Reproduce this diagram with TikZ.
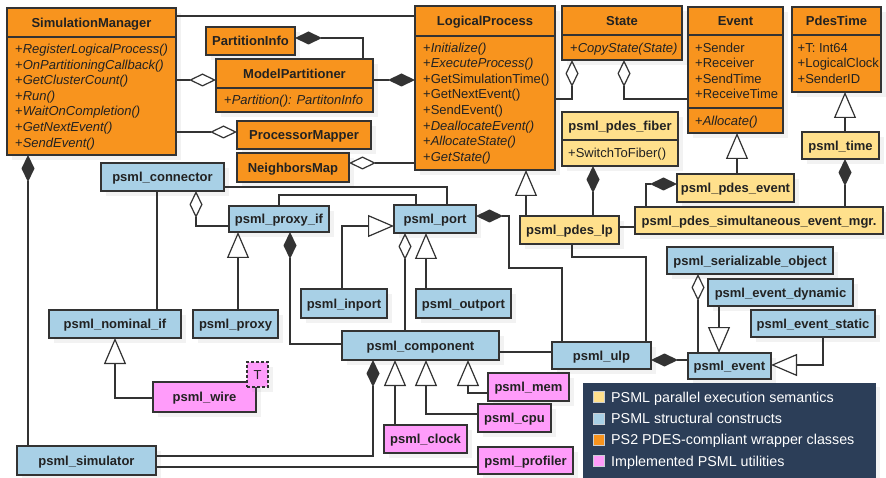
\documentclass[tikz,border=0pt]{standalone}
\usepackage{fontspec}
\setmainfont{Liberation Sans}
\usetikzlibrary{arrows.meta,shadows}

\definecolor{wrap}{HTML}{F8941E}
\definecolor{struct}{HTML}{A8D0E6}
\definecolor{parexec}{HTML}{FFE08C}
\definecolor{util}{HTML}{FF9CFA}
\definecolor{legbg}{HTML}{2C3E58}
\definecolor{ink}{HTML}{222222}
\definecolor{rule}{HTML}{333333}

% class box: name, style, x1, y1, x2, y2, text (pixel-like units, y downwards)
\newcommand\cls[7]{%
  \node[box,#2,minimum width={(#5-#3)*1pt},minimum height={(#6-#4)*1pt}] (#1) at (#3,#4) {#7};}
% compartment separator inside a class box
\newcommand\divider[2]{\draw[boxline] (#1.west |- 0,#2) -- (#1.east |- 0,#2);}

\tikzset{
  box/.style={draw=rule,line width=1.1pt,inner sep=0pt,outer sep=0pt,anchor=north west,
    font=\fontsize{13}{15.6}\selectfont\bfseries,text=ink,text height=9.5pt,text depth=0pt,
    drop shadow={shadow xshift=5pt,shadow yshift=-5pt,opacity=0.1}},
  boxline/.style={draw=rule,line width=1.1pt},
  title/.style={inner sep=0pt,font=\fontsize{13}{15.6}\selectfont\bfseries,text=ink,
    text height=9.5pt,text depth=0pt},
  op/.style={anchor=west,inner sep=0pt,font=\fontsize{13}{15.6}\selectfont,text=ink,
    text height=9.5pt,text depth=0pt},
  conn/.style={draw=rule,line width=1.2pt},
  aggr/.style={conn,-{Diamond[fill=white,length=27pt,width=13pt]}},
  compo/.style={conn,-{Diamond[fill=rule,length=27pt,width=13pt]}},
  inh/.style={conn,-{Triangle[fill=white,length=26pt,width=22pt]}},
  legsq/.style={minimum size=11pt,inner sep=0pt,draw=white!75!legbg,line width=0.6pt},
  legtxt/.style={anchor=west,inner sep=0pt,text=white,font=\fontsize{14.3}{17}\selectfont,
    text height=10.4pt,text depth=0pt},
}

\begin{document}
\begin{tikzpicture}[x=1pt,y=-1pt]
\fill[white] (0,0) rectangle (886,478);
\useasboundingbox (0,0) rectangle (886,478);

% ---------- PS2 PDES-compliant wrapper classes ----------
\cls{sm}{fill=wrap}{7}{8}{176}{155}{}
\divider{sm}{37}
\node[title] (sm-t) at (sm.north |- 0,22.5) {SimulationManager};
\foreach \t [count=\i from 0] in {RegisterLogicalProcess(),OnPartitioningCallback(),GetClusterCount(),Run(),WaitOnCompletion(),GetNextEvent(),SendEvent()}
  \node[op] (sm-op\i) at (15,{48.7+15.6*\i}) {+\textit{\t}};

\cls{pi}{fill=wrap}{206}{27}{295}{55}{PartitionInfo}

\cls{mp}{fill=wrap}{216}{59}{373}{112}{}
\divider{mp}{88}
\node[title] (mp-t) at (mp.north |- 0,73.5) {ModelPartitioner};
\node[op] (mp-op) at (224,100) {+\textit{Partition(): PartitonInfo}};

\cls{pm}{fill=wrap}{237}{121}{371}{149}{ProcessorMapper}
\cls{nb}{fill=wrap}{237}{153}{349}{182}{NeighborsMap}

\cls{lp}{fill=wrap}{415}{6}{555}{170}{}
\divider{lp}{36}
\node[title] (lp-t) at (lp.north |- 0,21) {LogicalProcess};
\foreach \t [count=\i from 0] in {+\textit{Initialize()},+\textit{ExecuteProcess()},+GetSimulationTime(),+GetNextEvent(),+SendEvent(),+\textit{DeallocateEvent()},+\textit{AllocateState()},+\textit{GetState()}}
  \node[op] (lp-op\i) at (423,{47.3+15.6*\i}) {\t};

\cls{st}{fill=wrap}{562}{6}{682}{60}{}
\divider{st}{35}
\node[title] (st-t) at (st.north |- 0,21) {State};
\node[op] (st-op) at (570,48) {+\textit{CopyState(State)}};

\cls{ev}{fill=wrap}{688}{7}{783}{133}{}
\divider{ev}{35}
\divider{ev}{108}
\node[title] (ev-t) at (ev.north |- 0,21) {Event};
\foreach \t [count=\i from 0] in {Sender,Receiver,SendTime,ReceiveTime}
  \node[op] (ev-at\i) at (695,{47.3+15.6*\i}) {+\t};
\node[op] (ev-op) at (695,121) {+\textit{Allocate()}};

\cls{pdt}{fill=wrap}{792}{7}{881}{92}{}
\divider{pdt}{35}
\node[title] (pdt-t) at (pdt.north |- 0,21) {PdesTime};
\foreach \t [count=\i from 0] in {T: Int64,LogicalClock,SenderID}
  \node[op] (pdt-at\i) at (797.5,{47.3+15.6*\i}) {+\t};

% ---------- parallel execution semantics ----------
\cls{pf}{fill=parexec}{562}{112}{678}{166}{}
\divider{pf}{140}
\node[title] (pf-t) at (pf.north |- 0,126) {psml\_pdes\_fiber};
\node[op] (pf-op) at (568,153) {+SwitchToFiber()};

\cls{pt}{fill=parexec}{802}{132}{879}{159}{psml\_time}
\cls{pe}{fill=parexec}{677}{174}{794}{202}{psml\_pdes\_event}
\cls{sem}{fill=parexec}{635}{207}{883}{234}{psml\_pdes\_simultaneous\_event\_mgr.}
\cls{plp}{fill=parexec}{520}{216}{619}{244}{psml\_pdes\_lp}

% ---------- structural constructs ----------
\cls{con}{fill=struct}{101}{163}{224}{191}{psml\_connector}
\cls{pif}{fill=struct}{229}{206}{329}{232}{psml\_proxy\_if}
\cls{port}{fill=struct}{394}{205}{476}{233}{psml\_port}
\cls{inp}{fill=struct}{301}{289}{387}{318}{psml\_inport}
\cls{outp}{fill=struct}{416}{289}{511}{318}{psml\_outport}
\cls{nif}{fill=struct}{49}{310}{181}{338}{psml\_nominal\_if}
\cls{prx}{fill=struct}{193}{310}{278}{338}{psml\_proxy}
\cls{cmp}{fill=struct}{342}{331}{499}{360}{psml\_component}
\cls{ulp}{fill=struct}{552}{342}{651}{369}{psml\_ulp}
\cls{so}{fill=struct}{667}{247}{833}{274}{psml\_serializable\_object}
\cls{ped}{fill=struct}{708}{279}{853}{306}{psml\_event\_dynamic}
\cls{pes}{fill=struct}{751}{310}{875}{337}{psml\_event\_static}
\cls{pev}{fill=struct}{688}{353}{771}{379}{psml\_event}
\cls{sim}{fill=struct}{17}{446}{156}{475}{psml\_simulator}

% ---------- utilities ----------
\cls{wire}{fill=util}{153}{382}{256}{412}{psml\_wire}
\cls{wiret}{fill=util,dash pattern=on 3pt off 2pt,font=\fontsize{13}{15.6}\selectfont}{247}{362}{268}{387}{T}
\cls{mem}{fill=util}{488}{373}{569}{401}{psml\_mem}
\cls{cpu}{fill=util}{478}{404}{551}{432}{psml\_cpu}
\cls{clk}{fill=util}{384}{425}{467}{453}{psml\_clock}
\cls{prof}{fill=util}{478}{447}{573}{474}{psml\_profiler}

% ---------- relations ----------
\draw[conn] (sm.east |- 0,16) -- (lp.west |- 0,16);
\draw[compo] (mp.north -| 363,0) |- (pi.east |- 0,38);
\draw[aggr] (sm.east |- 0,80) -- (mp.west |- 0,80);
\draw[compo] (mp.east |- 0,80) -- (lp.west |- 0,80);
\draw[aggr] (sm.east |- 0,132) -- (pm.west |- 0,132);
\draw[aggr] (lp.west |- 0,163) -- (nb.east |- 0,163);
\draw[aggr] (lp.east |- 0,99) -| (st.south -| 572,0);
\draw[aggr] (ev.west |- 0,99) -| (st.south -| 624,0);
\draw[inh] (pt.north -| 845,0) -- (pdt.south -| 845,0);
\draw[compo] (sem.north -| 845,0) -- (pt.south -| 845,0);
\draw[inh] (pe.north -| 737,0) -- (ev.south -| 737,0);
\draw[compo] (sem.north -| 646,0) |- (pe.west |- 0,184);
\draw[conn] (plp.east |- 0,227) -- (sem.west |- 0,227);
\draw[inh] (plp.north -| 526,0) -- (lp.south -| 526,0);
\draw[compo] (plp.north -| 593,0) -- (pf.south -| 593,0);
\draw[conn] (plp.south -| 572,0) -- ++(0,13) -| (ulp.north -| 646,0);
\draw[compo] (sim.north -| 28,0) -- (sm.south -| 28,0);

\draw[conn] (con.east |- 0,187) -| (port.north -| 447,0);
\draw[conn] (pif.north -| 279,0) -- ++(0,-11) -| (port.north -| 416,0);
\draw[aggr] (pif.west |- 0,226) -| (con.south -| 196,0);
\draw[conn] (con.south -| 157,0) -- (nif.north -| 157,0);
\draw[inh] (prx.north -| 238,0) -- (pif.south -| 238,0);
\draw[inh] (wire.west |- 0,398) -| (nif.south -| 115,0);
\draw[inh] (inp.north -| 342,0) |- (port.west |- 0,226);
\draw[inh] (outp.north -| 426,0) -- (port.south -| 426,0);
\draw[aggr] (cmp.north -| 405,0) -- (port.south -| 405,0);
\draw[compo] (ulp.north -| 562,0) |- (509,268) |- (port.east |- 0,216);
\draw[compo] (cmp.west |- 0,344) -| (pif.south -| 290,0);
\draw[conn] (cmp.east |- 0,352) -- (ulp.west |- 0,352);
\draw[inh] (mem.west |- 0,393) -| (cmp.south -| 468,0);
\draw[inh] (cpu.west |- 0,414) -| (cmp.south -| 426,0);
\draw[inh] (clk.north -| 395,0) -- (cmp.south -| 395,0);
\draw[compo] (sim.east |- 0,456) -| (cmp.south -| 373,0);
\draw[conn] (sim.east |- 0,467) -- (prof.west |- 0,467);

\draw[compo] (pev.west |- 0,360) -- (ulp.east |- 0,360);
\draw[aggr] (pev.north -| 698,0) -- (so.south -| 698,0);
\draw[inh] (ped.south -| 719,0) -- (pev.north -| 719,0);
\draw[inh] (pes.south -| 823,0) |- (pev.east |- 0,365);

% ---------- legend ----------
\node[fill=legbg,inner sep=0pt,anchor=north west,minimum width=293pt,minimum height=95pt,
  drop shadow={shadow xshift=4pt,shadow yshift=-4pt,opacity=0.1}] (leg) at (583,383) {};
\foreach \c/\t [count=\i from 0] in {parexec/PSML parallel execution semantics,struct/PSML structural constructs,wrap/PS2 PDES-compliant wrapper classes,util/Implemented PSML utilities}{
  \node[legsq,fill=\c] (leg-s\i) at (598.5,{397+21.3*\i}) {};
  \node[legtxt] (leg-t\i) at (611,{397+21.3*\i}) {\t};
}
\end{tikzpicture}
\end{document}
